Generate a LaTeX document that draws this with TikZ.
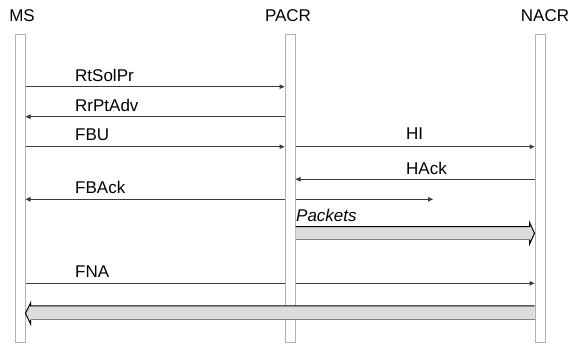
\documentclass[tikz,border=0pt]{standalone}
\usepackage{fontspec}
\setmainfont{Liberation Sans}
\usetikzlibrary{arrows.meta}
\definecolor{barline}{HTML}{B0B0B0}
\definecolor{msgline}{HTML}{3A3A3A}
\definecolor{bandfill}{HTML}{DCDCDC}
\definecolor{bandedge}{HTML}{808080}
\tikzset{
  lifebar/.style={draw=barline, fill=white, line width=1pt, inner sep=0pt,
    minimum width=10pt, minimum height=308pt},
  header/.style={font=\fontsize{17}{20}\selectfont, anchor=base, inner sep=0pt},
  msglabel/.style={font=\fontsize{17}{20}\selectfont, anchor=base west, inner sep=0pt},
  plainmsg/.style={draw=msgline, line width=1pt},
  msg/.style={plainmsg, -{Triangle[length=5pt,width=4.5pt]}},
}
\begin{document}
\begin{tikzpicture}[x=1pt, y=-1pt]
\useasboundingbox (0,0) rectangle (571,344);

% entity headings
\node[header] (hms)   at (22,22)  {MS};
\node[header] (hpacr) at (288,22) {PACR};
\node[header] (hnacr) at (545,22) {NACR};

% lifelines
\node[lifebar] (ms)   at (20,189)  {};
\node[lifebar] (pacr) at (290,189) {};
\node[lifebar] (nacr) at (540,189) {};

% messages
\draw[msg] (ms.east |- 0,86.7) -- (pacr.west |- 0,86.7);
\node[msglabel] (lrt) at (75,82) {RtSolPr};

\draw[msg] (pacr.west |- 0,116.7) -- (ms.east |- 0,116.7);
\node[msglabel] (lrr) at (75,112) {RrPtAdv};

\draw[msg] (ms.east |- 0,146.7) -- (pacr.west |- 0,146.7);
\node[msglabel] (lfbu) at (75,140.7) {FBU};

\draw[msg] (pacr.east |- 0,146.7) -- (nacr.west |- 0,146.7);
\node[msglabel] (lhi) at (406,139.3) {HI};

\draw[msg] (nacr.west |- 0,179.3) -- (pacr.east |- 0,179.3);
\node[msglabel] (lhack) at (406,174.3) {HAck};

\coordinate (fbackend) at (433,199.3);
\draw[msg] (pacr.west |- fbackend) -- (ms.east |- fbackend);
\draw[msg] (pacr.east |- fbackend) -- (fbackend);
\node[msglabel] (lfback) at (75,194) {FBAck};

% data packets forwarded to the new router
\coordinate (pk1) at (pacr.east |- 0,226.7);
\coordinate (pk2) at (pacr.east |- 0,239.5);
\fill[bandfill] (pk1) -- (529.5,226.7) -- (529.5,222.3) -- (nacr.west |- 0,233.3)
  -- (529.5,244.3) -- (529.5,239.5) -- (pk2) -- cycle;
\draw[black, line width=1pt] (pk1) -- (529.5,226.7) -- (529.5,222.3)
  -- (nacr.west |- 0,233.3) -- (529.5,244.3) -- (529.5,239.5);
\draw[bandedge, line width=1pt] (529.5,239.5) -- (pk2);
\node[msglabel, font=\fontsize{17}{20}\selectfont\itshape] (lpk) at (296,222) {Packets};

% FNA passes behind the PACR lifeline
\draw[plainmsg] (ms.east |- 0,283.3) -- (pacr.west |- 0,283.3);
\draw[msg] (pacr.east |- 0,283.3) -- (nacr.west |- 0,283.3);
\node[msglabel] (lfna) at (75,277.7) {FNA};

% buffered packets delivered to the mobile station
\coordinate (bk1) at (nacr.west |- 0,306);
\coordinate (bk2) at (nacr.west |- 0,320);
\fill[bandfill] (bk1) -- (30.7,306) -- (30.7,302.7) -- (ms.east |- 0,313.3)
  -- (30.7,324.3) -- (30.7,320) -- (bk2) -- cycle;
\draw[black, line width=1pt] (bk1) -- (30.7,306) -- (30.7,302.7)
  -- (ms.east |- 0,313.3) -- (30.7,324.3) -- (30.7,320);
\draw[bandedge, line width=1pt] (30.7,320) -- (bk2);
\end{tikzpicture}
\end{document}
